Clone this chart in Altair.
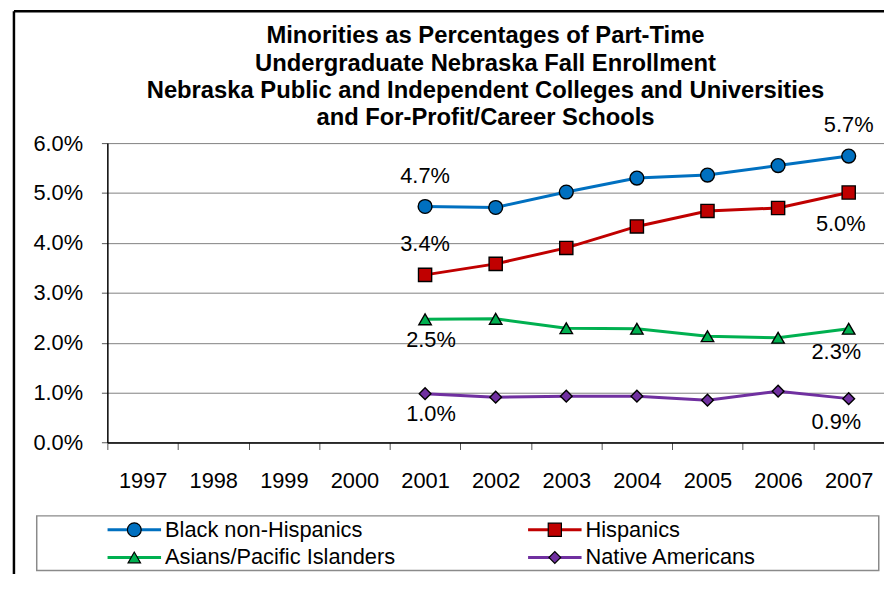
import altair as alt
import pandas as pd

# ---- data ----
years = ["1997", "1998", "1999", "2000", "2001", "2002", "2003", "2004", "2005", "2006", "2007"]
data_years = ["2001", "2002", "2003", "2004", "2005", "2006", "2007"]
series_names = ["Black non-Hispanics", "Hispanics", "Asians/Pacific Islanders", "Native Americans"]
black = [4.73, 4.71, 5.02, 5.30, 5.36, 5.55, 5.74]
hispanic = [3.36, 3.58, 3.90, 4.33, 4.64, 4.70, 5.01]
asian = [2.47, 2.48, 2.29, 2.28, 2.13, 2.10, 2.28]
native = [0.98, 0.91, 0.93, 0.93, 0.85, 1.03, 0.88]
y_ticks = [0.0, 1.0, 2.0, 3.0, 4.0, 5.0, 6.0]
title_lines = [
    "Minorities as Percentages of Part-Time",
    "Undergraduate Nebraska Fall Enrollment",
    "Nebraska Public and Independent Colleges and Universities",
    "and For-Profit/Career Schools",
]
legend_col = [0, 1, 0, 1]
legend_row = [0, 0, 1, 1]

colors = ["#0070C0", "#C00000", "#00B050", "#7030A0"]
shapes = ["circle", "square", "triangle-up", "diamond"]
FONT = "Liberation Sans"

rows = []
for name, vals in zip(series_names, [black, hispanic, asian, native]):
    for yr, v in zip(data_years, vals):
        rows.append({"series": name, "year": yr, "value": v / 100.0})
df = pd.DataFrame(rows)

leg_df = pd.DataFrame({"series": series_names, "col": legend_col, "row": legend_row})
title_df = pd.DataFrame({"line": title_lines, "idx": list(range(len(title_lines)))})

color_scale = alt.Scale(domain=series_names, range=colors)
shape_scale = alt.Scale(domain=series_names, range=shapes)

x_enc = alt.X(
    "year:N",
    scale=alt.Scale(domain=years, paddingInner=0, paddingOuter=0),
    sort=years,
    axis=alt.Axis(
        title=None, labelAngle=0, labelFontSize=22, labelFont=FONT, labelColor="black",
        tickBand="extent", tickSize=7, tickColor="#555555", domainColor="black",
        domainWidth=1.5, labelPadding=21, grid=False,
    ),
)
y_enc = alt.Y(
    "value:Q",
    scale=alt.Scale(domain=[0, 0.06], nice=False),
    axis=alt.Axis(
        title=None, values=[t / 100.0 for t in y_ticks], format=".1%",
        labelFontSize=22, labelFont=FONT, labelColor="black", tickSize=6,
        tickColor="#555555", domainColor="black", domainWidth=1.5,
        labelPadding=19, grid=True, gridColor="#7f7f7f", gridWidth=1,
    ),
)

base = alt.Chart(df)

lines = base.mark_line(strokeWidth=3).encode(
    x=x_enc, y=y_enc,
    color=alt.Color("series:N", scale=color_scale, legend=None),
)

points = base.mark_point(filled=True, stroke="black", strokeWidth=1.4, opacity=1).encode(
    x=x_enc, y=y_enc,
    fill=alt.Fill("series:N", scale=color_scale, legend=None),
    shape=alt.Shape("series:N", scale=shape_scale, legend=None),
    size=alt.Size("series:N", scale=alt.Scale(domain=series_names, range=[195, 140, 210, 240]), legend=None),
)

txt = dict(fontSize=22, font=FONT, color="black", baseline="middle", align="center")
lab_text = alt.Text("value:Q", format=".1%")

lab_above = base.mark_text(dy=-31, **txt).encode(x=x_enc, y=y_enc, text=lab_text).transform_filter(
    "(datum.year == '2001' && (datum.series == 'Black non-Hispanics' || datum.series == 'Hispanics')) || "
    "(datum.year == '2007' && datum.series == 'Black non-Hispanics')"
)
lab_hisp_end = base.mark_text(dy=32, dx=-8, **txt).encode(x=x_enc, y=y_enc, text=lab_text).transform_filter(
    "datum.year == '2007' && datum.series == 'Hispanics'"
)
lab_low_start = base.mark_text(dy=20.5, dx=6, **txt).encode(x=x_enc, y=y_enc, text=lab_text).transform_filter(
    "datum.year == '2001' && (datum.series == 'Asians/Pacific Islanders' || datum.series == 'Native Americans')"
)
lab_low_end = base.mark_text(dy=24, dx=-12.5, **txt).encode(x=x_enc, y=y_enc, text=lab_text).transform_filter(
    "datum.year == '2007' && (datum.series == 'Asians/Pacific Islanders' || datum.series == 'Native Americans')"
)

main = alt.layer(lines, points, lab_above, lab_hisp_end, lab_low_start, lab_low_end)

# ---- legend drawn from the series list ----
lx = alt.X("col:Q", scale=alt.Scale(domain=[0, 1], range=[27.2, 451.7]), axis=None)
ly = alt.Y("row:Q", scale=alt.Scale(domain=[0, 1], range=[390.3, 418.3]), axis=None)
leg_base = alt.Chart(leg_df)
leg_lines = leg_base.mark_rule(strokeWidth=3, xOffset=-27, x2Offset=27).encode(
    x=lx, x2=alt.X2("col:Q"), y=ly,
    color=alt.Color("series:N", scale=color_scale, legend=None),
)
leg_pts = leg_base.mark_point(filled=True, stroke="black", strokeWidth=1.2, opacity=1).encode(
    x=lx, y=ly,
    fill=alt.Fill("series:N", scale=color_scale, legend=None),
    shape=alt.Shape("series:N", scale=shape_scale, legend=None),
    size=alt.Size("series:N", scale=alt.Scale(domain=series_names, range=[100, 85, 110, 125]), legend=None),
)
leg_txt = leg_base.mark_text(align="left", baseline="middle", dx=31, fontSize=22, font=FONT, color="black").encode(
    x=lx, y=ly, text="series:N"
)
legend = alt.layer(leg_lines, leg_pts, leg_txt)

# ---- title (four lines, stacked through a scale) ----
title_layer = alt.Chart(title_df).mark_text(
    align="center", baseline="alphabetic", fontSize=24, fontWeight="bold", font=FONT, color="black"
).encode(
    x=alt.value(381.7),
    y=alt.Y("idx:Q", scale=alt.Scale(domain=[0, 3], range=[-100.6, -18.4]), axis=None),
    text="line:N",
)

# ---- decorative frame and legend box ----
one = alt.Chart(pd.DataFrame({"k": [0]}))
leg_box = one.mark_rect(fillOpacity=0, stroke="#8a8a8a", strokeWidth=1.5).encode(
    x=alt.value(-71.3), x2=alt.value(778.7), y=alt.value(376.3), y2=alt.value(431.5)
)
frame_top = one.mark_rule(stroke="black", strokeWidth=2.5).encode(
    x=alt.value(-94.3), x2=alt.value(800), y=alt.value(-133.2)
)
frame_left = one.mark_rule(stroke="black", strokeWidth=2.5).encode(
    x=alt.value(-94.3), y=alt.value(-133.2), y2=alt.value(600)
)
decor = alt.layer(leg_box, frame_top, frame_left)

chart = (
    alt.layer(main, legend, title_layer, decor)
    .resolve_scale(x="independent", y="independent")
    .properties(
        width=784,
        height=302.3,
        autosize=alt.AutoSizeParams(type="none"),
        padding={"left": 100.3, "top": 133.7, "right": 0, "bottom": 130},
        background="white",
    )
    .configure_view(stroke="transparent")
)

chart.save("out.html", embed_options={"renderer": "svg", "actions": False})
